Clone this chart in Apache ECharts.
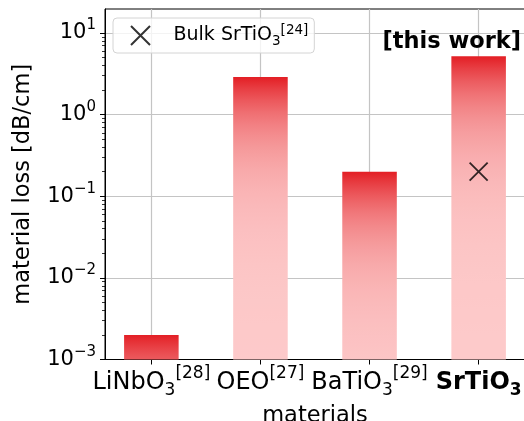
<!DOCTYPE html>
<html><head><meta charset="utf-8">
<script src="https://cdn.jsdelivr.net/npm/echarts@6/dist/echarts.min.js"></script>
<style>html,body{margin:0;padding:0;background:#fff}#c{width:524px;height:421px}</style>
</head><body><div id="c"></div>
<script>
const categories = ['LiNbO3', 'OEO', 'BaTiO3', 'SrTiO3'];
const categoryRefs = ['[28]', '[27]', '[29]', ''];
const categoryPositions = [0, 1, 2, 3];
const lossValues = [0.002, 2.9, 0.2, 5.2];
const bulkName = 'Bulk SrTiO3';
const bulkRef = '[24]';
const bulkPositions = [3];
const bulkValues = [0.2];
const yMajorTicks = [0.001, 0.01, 0.1, 1, 10];
const yExponentLabels = ['−3', '−2', '−1', '0', '1'];
const yMinorTicks = [0.002,0.003,0.004,0.005,0.006,0.007,0.008,0.009,
  0.02,0.03,0.04,0.05,0.06,0.07,0.08,0.09,
  0.2,0.3,0.4,0.5,0.6,0.7,0.8,0.9,
  2,3,4,5,6,7,8,9];
const Y_MIN = 0.001, Y_MAX = 19.7;
const X_MIN = -0.425, X_MAX = 3.425;
const BAR_WIDTH = 0.5;
const FONT = 'DejaVu Sans';

const RED = [227, 30, 36], PINK = [253, 203, 203];
function mix(g) {
  const c = PINK.map((p, k) => Math.round(p + (RED[k] - p) * g));
  return 'rgb(' + c.join(',') + ')';
}
function barGradient(v) {
  const stops = [];
  const lv = Math.log10(v), l0 = Math.log10(Y_MIN);
  for (let i = 0; i <= 24; i++) {
    const p = i / 24;
    const ly = lv - p * (lv - l0);
    const t = Math.pow(10, ly) / v;
    stops.push({ offset: p, color: mix(Math.pow(t, 0.62)) });
  }
  return { type: 'linear', x: 0, y: 0, x2: 0, y2: 1, colorStops: stops };
}

const xPositionIndex = v => categoryPositions.indexOf(Math.round(v));
function xLabel(v) {
  const i = xPositionIndex(v);
  if (i < 0) return '';
  const name = categories[i];
  const bold = i === categories.length - 1;
  const main = name.endsWith('3') ? name.slice(0, -1) : name;
  const sub = name.endsWith('3') ? '3' : '';
  let s = bold ? '{bb|' + main + '}' : '{b|' + main + '}';
  if (sub) s += bold ? '{bsub|' + sub + '}' : '{sub|' + sub + '}';
  if (categoryRefs[i]) s += '{sup|' + categoryRefs[i] + '}';
  return s;
}
function yLabel(v) {
  const i = yMajorTicks.findIndex(t => Math.abs(Math.log10(t) - Math.log10(v)) < 1e-6);
  if (i < 0) return '';
  return '{b|10}{sup|' + yExponentLabels[i] + '}';
}

const chart = echarts.init(document.getElementById('c'), null, { renderer: 'canvas' });
const X_ICON = 'path://M0,0L20,20M20,0L0,20';
chart.setOption({
  animation: false,
  backgroundColor: '#fff',
  textStyle: { fontFamily: FONT },
  title: {
    text: '[this work]', right: 3, top: 31, padding: 0,
    textStyle: { fontFamily: FONT, fontWeight: 'bold', fontSize: 22.5, color: '#000' }
  },
  legend: {
    left: 113, top: 18,
    padding: [5, 6, 5, 17],
    itemWidth: 20, itemHeight: 19,
    borderColor: '#d4d4d4', borderWidth: 1, borderRadius: 4,
    backgroundColor: 'rgba(255,255,255,0.8)',
    data: [{ name: bulkName, icon: X_ICON }],
    formatter: () => '{b|Bulk SrTiO}{sub|3}{sup|' + bulkRef + '}',
    textStyle: {
      color: '#000', padding: [0, 0, 0, 18],
      rich: {
        b: { fontFamily: FONT, fontSize: 19, lineHeight: 25, color: '#000' },
        sub: { fontFamily: FONT, fontSize: 13.5, lineHeight: 13.5, verticalAlign: 'bottom', color: '#000' },
        sup: { fontFamily: FONT, fontSize: 13.5, lineHeight: 13.5, verticalAlign: 'top', color: '#000' }
      }
    }
  },
  grid: { left: 105, right: -1, top: 9, bottom: 61.5, show: true, borderColor: '#000', borderWidth: 1,
          outerBoundsMode: 'none', containLabel: false },
  xAxis: [{
    type: 'value', min: X_MIN, max: X_MAX,
    axisLine: { show: true, onZero: false, lineStyle: { color: '#000', width: 1 } },
    axisTick: { show: true, customValues: categoryPositions, length: 5, lineStyle: { color: '#000', width: 1 } },
    axisLabel: {
      customValues: categoryPositions, formatter: xLabel, margin: 6, color: '#000',
      rich: {
        b: { fontFamily: FONT, fontSize: 24, lineHeight: 34, color: '#000' },
        bb: { fontFamily: FONT, fontSize: 24, lineHeight: 34, fontWeight: 'bold', color: '#000' },
        sub: { fontFamily: FONT, fontSize: 17, lineHeight: 17, verticalAlign: 'bottom', color: '#000' },
        bsub: { fontFamily: FONT, fontSize: 17, lineHeight: 17, verticalAlign: 'bottom', fontWeight: 'bold', color: '#000' },
        sup: { fontFamily: FONT, fontSize: 17, lineHeight: 17, verticalAlign: 'top', color: '#000' }
      }
    },
    splitLine: { show: true, lineStyle: { color: '#c4c4c4', width: 1.2 } },
    name: 'materials', nameLocation: 'middle', nameGap: 32,
    nameTextStyle: { fontFamily: FONT, fontSize: 22.5, color: '#000' }
  }],
  yAxis: [{
    type: 'log', logBase: 10, min: Y_MIN, max: Y_MAX,
    axisLine: { show: true, onZero: false, lineStyle: { color: '#000', width: 1 } },
    axisTick: { show: true, customValues: yMajorTicks, length: 5, lineStyle: { color: '#000', width: 1 } },
    axisLabel: {
      customValues: yMajorTicks, formatter: yLabel, margin: 9, color: '#000',
      rich: {
        b: { fontFamily: FONT, fontSize: 21, lineHeight: 30, color: '#000' },
        sup: { fontFamily: FONT, fontSize: 15, lineHeight: 15, verticalAlign: 'top', color: '#000' }
      }
    },
    splitLine: { show: true, lineStyle: { color: '#c4c4c4', width: 1.2 } },
    name: 'material loss [dB/cm]', nameLocation: 'middle', nameGap: 70,
    nameTextStyle: { fontFamily: FONT, fontSize: 22.5, color: '#000' }
  }, {
    type: 'log', logBase: 10, min: Y_MIN, max: Y_MAX, position: 'left',
    axisLine: { show: false, onZero: false },
    axisTick: { show: true, customValues: yMinorTicks, length: 3, lineStyle: { color: '#000', width: 0.8 } },
    axisLabel: { show: false },
    splitLine: { show: false }
  }],
  series: [{
    type: 'custom', xAxisIndex: 0, yAxisIndex: 0, z: 2,
    data: lossValues.map((v, i) => [categoryPositions[i], v]),
    renderItem(params, api) {
      const x = api.value(0), v = api.value(1);
      const tl = api.coord([x - BAR_WIDTH / 2, v]);
      const br = api.coord([x + BAR_WIDTH / 2, Y_MIN]);
      return {
        type: 'rect',
        shape: { x: tl[0], y: tl[1], width: br[0] - tl[0], height: br[1] - tl[1] },
        style: { fill: barGradient(v) }
      };
    }
  }, {
    type: 'scatter', name: bulkName, xAxisIndex: 0, yAxisIndex: 0, z: 4,
    symbol: X_ICON, symbolSize: 18,
    itemStyle: { color: 'rgba(0,0,0,0)', borderColor: '#000', borderWidth: 1.8 },
    data: bulkValues.map((v, i) => [bulkPositions[i], v])
  }]
});
</script>
</body></html>
